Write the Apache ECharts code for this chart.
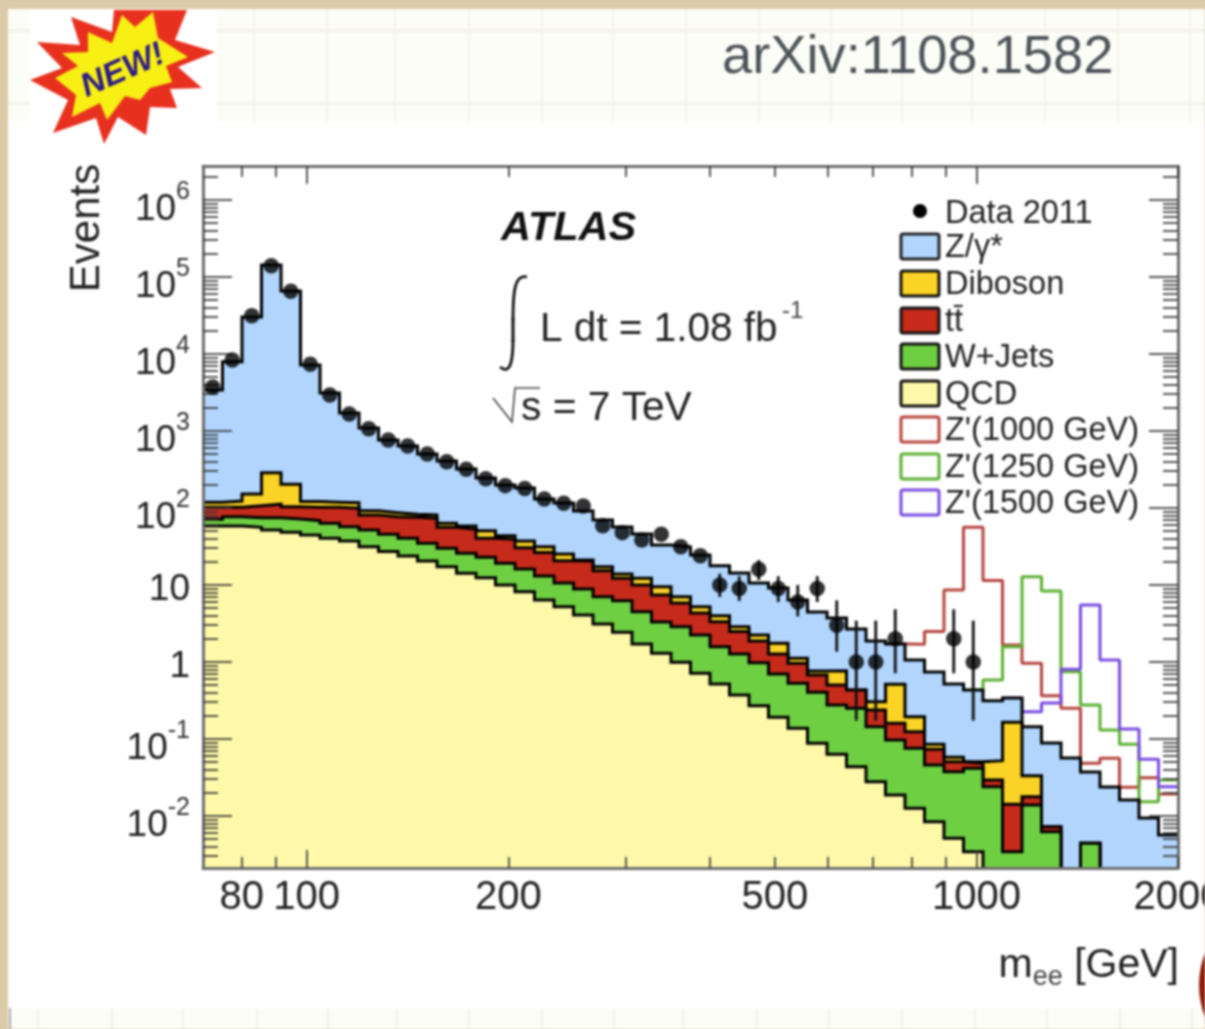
<!DOCTYPE html>
<html>
<head>
<meta charset="utf-8">
<script src="https://cdn.jsdelivr.net/npm/echarts@6/dist/echarts.min.js"></script>
<style>
html,body{margin:0;padding:0;background:#dccba8;overflow:hidden}
#chart{width:1205px;height:1029px;filter:blur(0.9px)}
</style>
</head>
<body>
<div id="chart"></div>
<script>
// ---------- data ----------
const binEdges = [70,74.85,80.05,85.6,91.54,97.88,104.67,111.93,119.69,127.99,136.87,146.36,156.51,167.36,178.97,191.38,204.65,218.84,234.02,250.25,267.6,286.16,306,327.22,349.91,374.18,400.12,427.87,457.54,489.27,523.19,559.47,598.27,639.76,684.12,731.56,782.29,836.54,894.55,956.58,1022.91,1093.84,1169.69,1250.8,1337.54,1430.29,1529.47,1635.53,1748.94,1870.21,2000];
const emptyBin = 0.001; // below the axis: nothing in this bin
const zTop = [3400,7940,30300,143000,65800,7200,3120,1710,1090,764,638,503,407,321,245,199,182,131,116,91.4,69.8,56.6,45.9,33,31.2,24.5,17.7,14.3,10.6,9.14,6.38,4.46,3.73,2.68,1.87,1.71,1.06,0.741,0.518,0.433,0.314,0.341,0.144,0.0887,0.0566,0.0373,0.0238,0.0161,0.00942,0.00566];
const dibosonTop = [119,123,152,287,203,121,119,117,92.2,86.9,82.8,81.1,63.2,58.4,50.7,43.7,37.2,31.4,25.3,21.1,17.3,13.9,12.2,9.5,7.05,5.22,3.99,2.87,2.24,1.75,1.12,0.764,0.77,0.433,0.305,0.513,0.195,0.0853,0.0578,0.0507,0.0523,0.165,0.0334,0.00726,emptyBin,0.00442,emptyBin,emptyBin,emptyBin,emptyBin];
const ttbarTop = [102,102,107,112,104,102,102,99,81.1,77.1,75.7,73.5,56.1,52.9,40.4,39.2,30.5,26.3,20.7,20.5,15.3,12.2,10,7.41,5.84,4.33,3.34,2.48,1.87,1.27,0.962,0.678,0.502,0.433,0.238,0.16,0.124,0.0735,0.0507,0.0483,0.0294,0.0142,0.0178,0.00726,emptyBin,0.00442,emptyBin,emptyBin,emptyBin,emptyBin];
const wjetsTop = [71.3,77.1,74.8,74.8,72,68.4,63.2,57.2,51.8,45.5,40.4,34.8,30,25.8,22.9,19.1,16.1,13.1,10.6,8.87,7.05,6.25,4.5,3.31,2.87,2.24,1.58,1.27,0.98,0.698,0.529,0.404,0.277,0.251,0.144,0.0971,0.0757,0.0459,0.0376,0.0416,0.024,0.00344,0.0139,0.00625,emptyBin,0.00442,emptyBin,emptyBin,emptyBin,emptyBin];
const qcdTop = [58.4,58.4,56.1,51.8,48.3,44.6,40.4,37.2,31.4,27.1,23.8,20.5,17.3,14.2,12.4,10,8.19,6.38,5.22,4.07,3.12,2.43,1.71,1.3,0.99,0.713,0.518,0.372,0.271,0.191,0.138,0.0879,0.0633,0.0437,0.0279,0.0187,0.0126,0.00843,0.00513,0.00344,emptyBin,emptyBin,emptyBin,emptyBin,emptyBin,emptyBin,emptyBin,emptyBin,emptyBin,emptyBin];
const n = null;
const zp1000 = [n,n,n,n,n,n,n,n,n,n,n,n,n,n,n,n,n,n,n,n,n,n,n,n,n,n,n,n,n,n,n,n,n,n,n,1.71,1.7,2.48,8.61,56.1,11.4,1.66,0.962,0.365,0.251,0.0483,0.0561,0.0236,0.0314,0.0193];
const zp1250 = [n,n,n,n,n,n,n,n,n,n,n,n,n,n,n,n,n,n,n,n,n,n,n,n,n,n,n,n,n,n,n,n,n,n,n,n,n,n,n,0.433,0.583,1.58,12.8,8.36,0.748,0.277,0.131,0.0853,0.0153,0.0294];
const zp1500 = [n,n,n,n,n,n,n,n,n,n,n,n,n,n,n,n,n,n,n,n,n,n,n,n,n,n,n,n,n,n,n,n,n,n,n,n,n,n,n,n,n,0.341,0.226,0.294,0.804,5.5,1.06,0.135,0.0545,0.024];
const dataCounts = [3730,8360,31400,140000,65200,7350,2930,1660,1070,764,638,503,399,318,240,195,179,131,115,106,58.9,47.8,38.4,45.5,31.4,24,10,9,16,9,6,9,3,1,1,2,n,n,2,1,n,n,n,n,n,n,n,n,n,n];
const dataHigh = [n,n,n,n,n,n,n,n,n,n,n,n,n,n,n,n,n,n,n,n,n,n,n,n,n,n,14,13,21,13,10,13,6.3,3.44,3.44,4.83,n,n,4.83,3.44,n,n,n,n,n,n,n,n,n,n];
const dataLow = [n,n,n,n,n,n,n,n,n,n,n,n,n,n,n,n,n,n,n,n,n,n,n,n,n,n,7,6.2,11.6,6,3.9,6,1.36,0.173,0.173,0.713,n,n,0.713,0.173,n,n,n,n,n,n,n,n,n,n];

const xMajorTicks = [100,1000];
const xMinorTicks = [80,90,200,300,400,500,600,700,800,900,2000];
const xTickLabels = [80,100,200,500,1000,2000];
const yMajorTicks = [0.01,0.1,1,10,100,1000,1e4,1e5,1e6];
const yMinorTicks = [];
[0.001,0.01,0.1,1,10,100,1000,1e4,1e5,1e6].forEach(d=>[2,3,4,5,6,7,8,9].forEach(m=>{const v=+(d*m).toPrecision(3); if(v>0.0021&&v<2.7e6) yMinorTicks.push(v);}));
const xRange = [70,2000];
const yRange = [0.00211,2.76e6];

// ---------- helpers ----------
const FONT = '"Liberation Sans",Arial,sans-serif';
const INK = '#222';
const stepData = vals => binEdges.map((e,i)=>[e, i<vals.length ? vals[i] : vals[vals.length-1]]);
const centers = binEdges.slice(0,-1).map((e,i)=>Math.sqrt(e*binEdges[i+1]));
const hist = (name,vals,fill,z) => ({name,type:'line',step:'end',data:stepData(vals),showSymbol:false,symbol:'none',z,
  lineStyle:{color:'#000',width:3,join:'miter'},areaStyle:{color:fill,opacity:1,origin:'start'},itemStyle:{color:fill},clip:true,silent:true,connectNulls:false});
const sig = (name,vals,color) => ({name,type:'line',step:'end',data:stepData(vals),showSymbol:false,symbol:'none',z:1,
  lineStyle:{color,width:3},itemStyle:{color},clip:true,silent:true});

const C = {z:'#b1d5fd',d:'#fbd226',t:'#c52a1a',w:'#6fcf43',q:'#fdf9a9',r:'#b5443e',g:'#5cb032',p:'#7a4be0'};

const xBase = {type:'log',logBase:10,min:xRange[0],max:xRange[1],splitLine:{show:false},minorTick:{show:false},axisLabel:{show:false},z:6,
  axisLine:{show:false,onZero:false}};
const yBase = {type:'log',logBase:10,min:yRange[0],max:yRange[1],splitLine:{show:false},minorTick:{show:false},axisLabel:{show:false},z:6,
  axisLine:{show:false,onZero:false}};
const tick = (vals,len) => ({show:true,inside:true,length:len,customValues:vals,lineStyle:{color:'#3a3a3a',width:1.7}});
const frame = {show:true,onZero:false,lineStyle:{color:'#6e6e6e',width:3}};

// ---------- decoration ----------
const gfx = [];
const bg = (o)=>{o.z=-10;o.silent=true;gfx.push(o);};
bg({type:'rect',shape:{x:8,y:9,width:1197,height:1020},style:{fill:'#ffffff'},z2:0});
bg({type:'rect',shape:{x:8,y:9,width:1197,height:113},style:{fill:'#fdfdf7'}});
bg({type:'rect',shape:{x:8,y:1008,width:1197,height:21},style:{fill:'#fdfdf7'}});
[30,103].forEach(y=>bg({type:'rect',shape:{x:8,y:y-1,width:1197,height:3},style:{fill:'#f3f3ea'}}));
[254,327,395,469,542,613,686,759,831,902,972,1045,1118,1190].forEach(x=>bg({type:'rect',shape:{x:x-1,y:9,width:2,height:113},style:{fill:'#f3f3ea'}}));
[38,112,183,257,328,397,469,542,614,683,757,829,902,975,1047,1120,1192].forEach(x=>bg({type:'rect',shape:{x:x-1,y:1008,width:2,height:21},style:{fill:'#f1f1e8'}}));
bg({type:'rect',shape:{x:9,y:1008,width:2,height:21},style:{fill:'#a9a9a9'}});
bg({type:'rect',shape:{x:30,y:9,width:186,height:136},style:{fill:'#ffffff'}});
const deco = (o,z)=>{o.z=z||20;o.silent=true;gfx.push(o);};
deco({type:'polygon',shape:{points:[[71,17],[112,32],[114,10],[187,10],[175,40],[215,52],[178,67],[202,88],[170,89],[177,108],[150,107],[146,135],[118,117],[104,144],[96,118],[53,133],[68,100],[30,80],[62,68],[37,42],[80,45]]},style:{fill:'#e8301f'}});
deco({type:'polygon',shape:{points:[[88,32],[112,43],[122,15],[135,27],[153,12],[158,38],[188,57],[166,66],[172,82],[150,88],[140,100],[125,96],[107,120],[100,103],[72,117],[76,95],[55,78],[78,66],[62,53],[88,52]]},style:{fill:'#f8ef14'}});
deco({type:'text',x:123,y:71,rotation:0.42,style:{text:'NEW!',font:'italic bold 33px '+FONT,fill:'#2b1a86',align:'center',verticalAlign:'middle'}});
deco({type:'circle',shape:{cx:1287,cy:985,r:88},style:{fill:'#8f1a0a'}});
deco({type:'text',x:722,y:58,style:{text:'arXiv:1108.1582',font:'54.3px '+FONT,fill:'#4d545a',align:'left',verticalAlign:'middle'}});
deco({type:'text',x:87,y:228,rotation:Math.PI/2,style:{text:'Events',font:'42px '+FONT,fill:INK,align:'center',verticalAlign:'middle'}});
deco({type:'text',x:1179,y:968,style:{text:'{m|m}{s|ee}{m| [GeV]}',align:'right',verticalAlign:'middle',fill:INK,rich:{m:{font:'41px '+FONT,fill:INK,lineHeight:46,verticalAlign:'top'},s:{font:'27px '+FONT,fill:'#444',lineHeight:46,verticalAlign:'bottom'}}}});
deco({type:'text',x:501,y:229,style:{text:'ATLAS',font:'italic bold 41.5px '+FONT,fill:'#111',align:'left',verticalAlign:'middle'}});
deco({type:'text',x:540,y:330,style:{text:'L dt = 1.08 fb',font:'40.5px '+FONT,fill:INK,align:'left',verticalAlign:'middle'}});
deco({type:'text',x:782,y:311,style:{text:'-1',font:'24px '+FONT,fill:'#444',align:'left',verticalAlign:'middle'}});
deco({type:'bezierCurve',shape:{x1:513,y1:340,x2:500,y2:367,cpx1:513,cpy1:362,cpx2:510,cpy2:375},style:{stroke:'#111',lineWidth:2.8,fill:null}});
deco({type:'bezierCurve',shape:{x1:513,y1:320,x2:527,y2:277,cpx1:513,cpy1:290,cpx2:515,cpy2:274},style:{stroke:'#111',lineWidth:2.8,fill:null}});
deco({type:'line',shape:{x1:513,y1:318,x2:513,y2:342},style:{stroke:'#111',lineWidth:3}});
deco({type:'polyline',shape:{points:[[493,398],[512,422],[515,388],[540,388]]},style:{stroke:'#444',lineWidth:1.6,fill:null}});
deco({type:'text',x:521,y:409,style:{text:'s = 7 TeV',font:'40.7px '+FONT,fill:INK,align:'left',verticalAlign:'middle'}});
// legend
const legendItems = [
 ['Z/γ*',C.z,'#222',233],['Diboson',C.d,'#111',270],['t\u0074\u0304',C.t,'#111',307],['W+Jets',C.w,'#111',343],['QCD',C.q,'#111',380],
 ["Z'(1000 GeV)",'#fff',C.r,416],["Z'(1250 GeV)",'#fff',C.g,453],["Z'(1500 GeV)",'#fff',C.p,489]];
deco({type:'rect',shape:{x:900,y:416,width:240,height:100},style:{fill:'#fff'}},18);
deco({type:'circle',shape:{cx:920,cy:211,r:7},style:{fill:'#000'}});
deco({type:'text',x:945,y:214,style:{text:'Data 2011',font:'32.5px '+FONT,fill:INK,align:'left',verticalAlign:'middle'}});
legendItems.forEach(([t,f,s,y])=>{
  deco({type:'rect',shape:{x:901,y:y+1,width:38,height:25,r:2},style:{fill:f,stroke:s,lineWidth:3}});
  deco({type:'text',x:945,y:y+15,style:{text:t,font:'32.5px '+FONT,fill:INK,align:'left',verticalAlign:'middle'}});
});

const grid = {left:203,top:166,width:975,height:702,containLabel:false,outerBoundsMode:'none'};

const option = {
  animation:false,
  backgroundColor:'transparent',
  grid,
  graphic:{elements:gfx},
  xAxis:[
    Object.assign({},xBase,{position:'bottom',axisLine:frame,axisTick:tick(xMajorTicks,18),
      axisLabel:{show:true,customValues:xTickLabels,margin:10,color:INK,fontSize:40,fontFamily:FONT,hideOverlap:false,showMinLabel:true,showMaxLabel:true,formatter:v=>String(Math.round(v))}}),
    Object.assign({},xBase,{position:'bottom',axisTick:tick(xMinorTicks,11)}),
    Object.assign({},xBase,{position:'top',axisLine:frame,axisTick:tick(xMajorTicks,18)}),
    Object.assign({},xBase,{position:'top',axisTick:tick(xMinorTicks,11)})
  ],
  yAxis:[
    Object.assign({},yBase,{position:'left',axisLine:frame,axisTick:tick(yMajorTicks,29),
      axisLabel:{show:true,customValues:yMajorTicks,margin:13,color:INK,fontFamily:FONT,hideOverlap:false,
        formatter:v=>{const k=Math.round(Math.log10(v));return k===0?'{c|1}':k===1?'{c|10}':'{b|10}{e|'+k+'}';},
        rich:{b:{fontSize:37,fontFamily:FONT,color:INK,lineHeight:57,verticalAlign:'bottom'},
              c:{fontSize:37,fontFamily:FONT,color:INK,lineHeight:47,verticalAlign:'bottom'},
              e:{fontSize:25,fontFamily:FONT,color:'#333',lineHeight:25,padding:[8,0,0,0],verticalAlign:'top'}}}}),
    Object.assign({},yBase,{position:'left',axisTick:tick(yMinorTicks,15)}),
    Object.assign({},yBase,{position:'right',axisLine:frame,axisTick:tick(yMajorTicks,29)}),
    Object.assign({},yBase,{position:'right',axisTick:tick(yMinorTicks,15)})
  ],
  series:[
    sig("Z'(1000 GeV)",zp1000,C.r),
    sig("Z'(1250 GeV)",zp1250,C.g),
    sig("Z'(1500 GeV)",zp1500,C.p),
    hist('Z/γ*',zTop,C.z,2),
    hist('Diboson',dibosonTop,C.d,3),
    hist('tt̄',ttbarTop,C.t,4),
    hist('W+Jets',wjetsTop,C.w,5),
    hist('QCD',qcdTop,C.q,5.5),
    {name:'Data 2011 errors',type:'custom',z:7,silent:true,clip:true,
      data:centers.map((c,i)=>dataHigh[i]==null?null:[c,dataHigh[i],dataLow[i]]).filter(Boolean),
      encode:{x:0,y:[1,2]},
      renderItem:(p,api)=>{const a=api.coord([api.value(0),api.value(1)]),b=api.coord([api.value(0),api.value(2)]);
        return {type:'line',shape:{x1:a[0],y1:a[1],x2:b[0],y2:b[1]},style:{stroke:'#111',lineWidth:2.8}};}},
    {name:'Data 2011',type:'scatter',z:8,symbol:'circle',symbolSize:15.5,silent:true,itemStyle:{color:'#000'},
      data:centers.map((c,i)=>dataCounts[i]==null?null:[c,dataCounts[i]]).filter(Boolean)}
  ]
};
const chart = echarts.init(document.getElementById('chart'),null,{renderer:'canvas'});
chart.setOption(option);
</script>
</body>
</html>
